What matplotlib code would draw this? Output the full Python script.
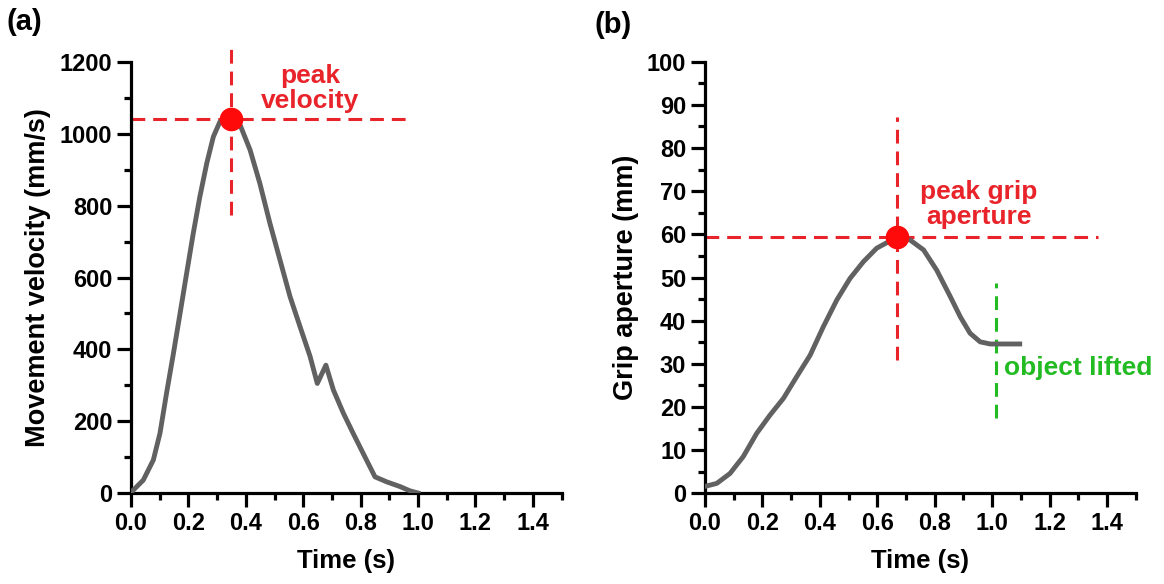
import matplotlib.pyplot as plt
from matplotlib.ticker import MultipleLocator

plt.rcParams['font.family'] = ['Liberation Sans', 'DejaVu Sans']
plt.rcParams['font.weight'] = 'bold'

# movement velocity trace (time in s, velocity in mm/s)
vel_t = [0.0, 0.008, 0.043, 0.078, 0.101, 0.124, 0.148, 0.171, 0.194, 0.217, 0.240,
         0.264, 0.287, 0.310, 0.345, 0.38, 0.415, 0.449, 0.484, 0.519, 0.554,
         0.589, 0.624, 0.649, 0.679, 0.705, 0.740, 0.774, 0.809, 0.850, 0.891,
         0.937, 0.972, 1.0]
vel_v = [0, 8, 36, 92, 166, 278, 389, 500, 612, 723, 825,
         918, 992, 1034, 1042, 1025, 955, 862, 751, 649, 547,
         463, 380, 305, 356, 287, 222, 166, 110, 45, 31,
         18, 6, 0]

# grip aperture trace (time in s, aperture in mm)
grip_t = [0.0, 0.041, 0.087, 0.133, 0.180, 0.226, 0.273, 0.319, 0.366, 0.412, 0.459,
          0.505, 0.552, 0.598, 0.645, 0.674, 0.714, 0.761, 0.807, 0.854, 0.889,
          0.923, 0.958, 0.993, 1.04, 1.096]
grip_y = [1.6, 2.3, 4.6, 8.5, 13.9, 18.1, 22.0, 27.0, 32.0, 38.6, 44.8,
          49.8, 53.7, 56.8, 58.5, 59.1, 58.7, 56.4, 51.7, 45.6, 40.9,
          37.1, 35.1, 34.6, 34.6, 34.6]

peak_vel_t, peak_vel = 0.35, 1042
peak_grip_t, peak_grip = 0.67, 59.4
lift_t = 1.015

line_col = '#616161'
red = '#e8232a'
green = '#22bb22'
dash = (0, (4.5, 2.6))

fig = plt.figure(figsize=(11.64, 5.84), dpi=100)
ax1 = fig.add_axes([0.1125, 0.1558, 0.370, 0.738])
ax2 = fig.add_axes([0.6057, 0.1553, 0.370, 0.739])


def style_axis(ax, ymax, ymajor, yminor):
    ax.set_xlim(0, 1.5)
    ax.set_ylim(0, ymax)
    ax.yaxis.set_major_locator(MultipleLocator(ymajor))
    ax.yaxis.set_minor_locator(MultipleLocator(yminor))
    ax.set_xticks([0, 0.2, 0.4, 0.6, 0.8, 1.0, 1.2, 1.4])
    ax.set_xticks([0.1, 0.3, 0.5, 0.7, 0.9, 1.1, 1.3, 1.5], minor=True)
    ax.xaxis.set_major_formatter(lambda v, p: f'{v:.1f}')
    for s in ['top', 'right']:
        ax.spines[s].set_visible(False)
    for s in ['left', 'bottom']:
        ax.spines[s].set_linewidth(2.3)
    ax.tick_params(which='major', length=10, width=2.3, labelsize=17, direction='out')
    ax.tick_params(which='minor', length=5, width=2.3, direction='out')
    ax.set_xlabel('Time (s)', fontsize=18.5, fontweight='bold', labelpad=10)


# (a) velocity
style_axis(ax1, 1200, 200, 100)
ax1.plot(vel_t, vel_v, color=line_col, lw=3.5, zorder=3)
ax1.plot([0, 0.97], [peak_vel, peak_vel], ls=dash, color=red, lw=2.2, clip_on=False)
ax1.plot([peak_vel_t, peak_vel_t], [775, 1255], ls=dash, color=red, lw=2.2, clip_on=False)
ax1.plot([peak_vel_t], [peak_vel], 'o', color='#ff0a0a', ms=16, clip_on=False, zorder=4)
ax1.text(0.624, 1125, 'peak\nvelocity', color=red, fontsize=19, fontweight='bold',
         ha='center', va='center', linespacing=1.05)
ax1.set_ylabel('Movement velocity (mm/s)', fontsize=19.5, fontweight='bold', labelpad=6)
fig.text(0.006, 0.962, '(a)', fontsize=21, fontweight='bold', va='center')

# (b) grip aperture
style_axis(ax2, 100, 10, 5)
ax2.plot(grip_t, grip_y, color=line_col, lw=3.5, zorder=3)
ax2.plot([0, 1.37], [peak_grip, peak_grip], ls=dash, color=red, lw=2.2, clip_on=False)
ax2.plot([peak_grip_t, peak_grip_t], [30.9, 87.2], ls=dash, color=red, lw=2.2, clip_on=False)
ax2.plot([peak_grip_t], [peak_grip], 'o', color='#ff0a0a', ms=16, clip_on=False, zorder=4)
ax2.plot([lift_t, lift_t], [17.4, 48.7], ls=dash, color=green, lw=2.2, clip_on=False)
ax2.text(0.954, 67, 'peak grip\naperture', color=red, fontsize=19, fontweight='bold',
         ha='center', va='center', linespacing=1.05)
ax2.text(1.04, 29, 'object lifted', color=green, fontsize=19, fontweight='bold',
         ha='left', va='center', clip_on=False)
ax2.set_ylabel('Grip aperture (mm)', fontsize=19.5, fontweight='bold', labelpad=6)
fig.text(0.511, 0.958, '(b)', fontsize=21, fontweight='bold', va='center')

fig.savefig('out.png', dpi=100)
